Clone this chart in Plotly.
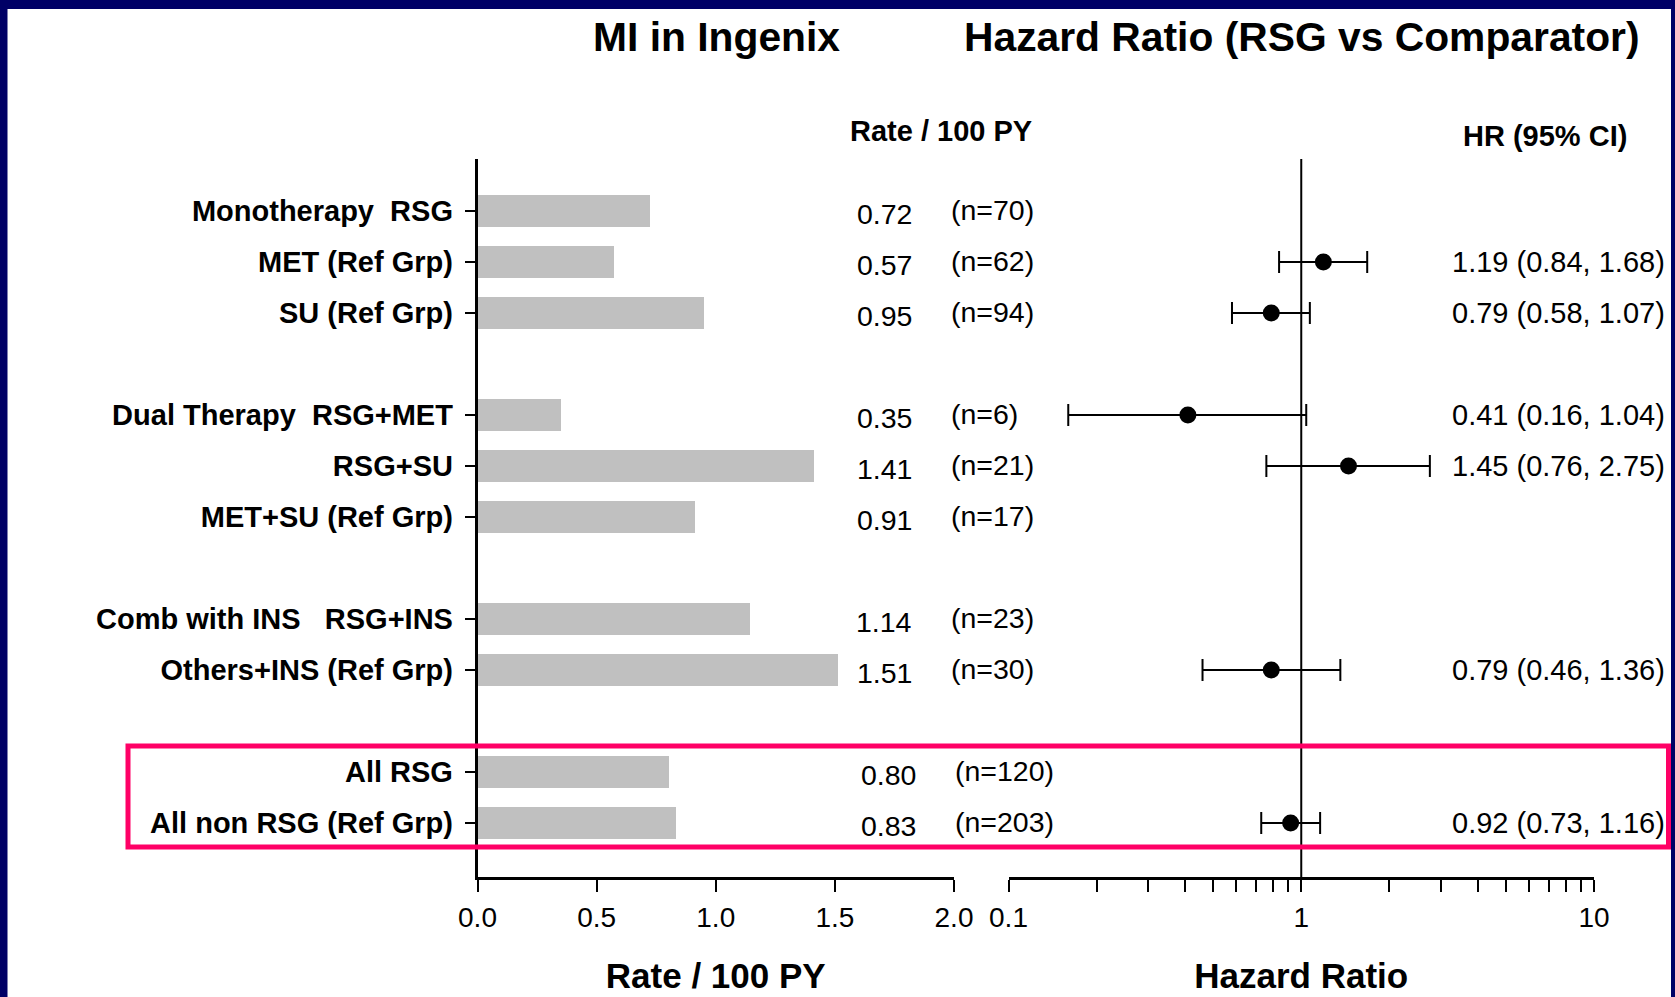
import plotly.graph_objects as go

# ---------------- data ----------------
labels = ["Monotherapy\u00a0\u00a0RSG", "MET (Ref Grp)", "SU (Ref Grp)",
          "Dual Therapy\u00a0\u00a0RSG+MET", "RSG+SU", "MET+SU (Ref Grp)",
          "Comb with INS\u00a0\u00a0\u00a0RSG+INS", "Others+INS (Ref Grp)",
          "All RSG", "All non RSG (Ref Grp)"]
rows = [0, 1, 2, 4, 5, 6, 8, 9, 11, 12]          # slot of each row (gaps between groups)
rates = [0.72, 0.57, 0.95, 0.35, 1.41, 0.91, 1.14, 1.51, 0.80, 0.83]
n_events = [70, 62, 94, 6, 21, 17, 23, 30, 120, 203]

hr_rows = [1, 2, 4, 5, 9, 12]
hr = [1.19, 0.79, 0.41, 1.45, 0.79, 0.92]
hr_lo = [0.84, 0.58, 0.16, 0.76, 0.46, 0.73]
hr_hi = [1.68, 1.07, 1.04, 2.75, 1.36, 1.16]

rate_ticks = [0, 0.5, 1.0, 1.5, 2.0]
hr_ticks = [0.1, 0.2, 0.3, 0.4, 0.5, 0.6, 0.7, 0.8, 0.9,
            1, 2, 3, 4, 5, 6, 7, 8, 9, 10]
hr_ticktext = ["0.1"] + [""] * 8 + ["1"] + [""] * 8 + ["10"]

# ---------------- layout geometry (pixels) ----------------
W, H = 1675, 997
FONT = "Liberation Sans, Arial, Helvetica, sans-serif"
NAVY = "#000066"
PINK = "#FF0066"

def px(x):
    return x / W

def py(y):
    return 1 - y / H

plot_top, plot_bot = 159, 877
row0_px, slot_px = 211, 51
y_top = (plot_top - row0_px) / slot_px
y_bot = (plot_bot - row0_px) / slot_px

fig = go.Figure()

fig.add_trace(go.Bar(
    x=rates, y=rows, orientation="h", width=0.63,
    marker=dict(color="#C0C0C0", line=dict(width=0)),
    xaxis="x", yaxis="y", showlegend=False, hoverinfo="x+y"))

fig.add_trace(go.Scatter(
    x=hr, y=hr_rows, mode="markers", xaxis="x2", yaxis="y",
    marker=dict(color="black", size=17, symbol="circle"),
    error_x=dict(type="data", symmetric=False,
                 array=[h - m for h, m in zip(hr_hi, hr)],
                 arrayminus=[m - l for m, l in zip(hr, hr_lo)],
                 color="black", thickness=2, width=11),
    showlegend=False))

axis_common = dict(showgrid=False, zeroline=False, showline=True, linecolor="black",
                   linewidth=2.5, ticks="outside", tickcolor="black", tickwidth=2)

fig.update_layout(
    width=W, height=H, margin=dict(l=0, r=0, t=0, b=0, autoexpand=False),
    paper_bgcolor="white", plot_bgcolor="rgba(0,0,0,0)",
    font=dict(family=FONT, color="black"),
    bargap=0,
    xaxis=dict(domain=[px(477.5), px(954)], range=[0, 2], anchor="y",
               tickvals=rate_ticks, ticktext=[f"{v:.1f}" for v in rate_ticks],
               ticklen=12, ticklabelstandoff=2,
               tickfont=dict(size=28, family=FONT),
               title=dict(text="Rate / 100 PY", standoff=32,
                          font=dict(size=35, family=FONT, weight="bold")),
               **axis_common),
    xaxis2=dict(domain=[px(1008.5), px(1594)], type="log", range=[-1, 1], anchor="y",
                tickvals=hr_ticks, ticktext=hr_ticktext,
                ticklen=12, ticklabelstandoff=2,
                tickfont=dict(size=28, family=FONT),
                title=dict(text="Hazard Ratio", standoff=32,
                           font=dict(size=35, family=FONT, weight="bold")),
                **axis_common),
    yaxis=dict(domain=[py(plot_bot), py(plot_top)], range=[y_bot, y_top], anchor="x",
               tickvals=rows, ticktext=labels, ticklen=10, ticklabelstandoff=6,
               tickfont=dict(size=29, family=FONT, weight="bold"),
               **axis_common),
)

# reference line at HR = 1
fig.add_shape(type="line", xref="x2", yref="y domain", x0=1, x1=1, y0=0, y1=1,
              line=dict(color="black", width=2), layer="below")

# highlight box around the "All" rows
fig.add_shape(type="rect", xref="paper", yref="paper",
              x0=px(128), x1=px(1668.5), y0=py(847), y1=py(746),
              line=dict(color=PINK, width=5), fillcolor="rgba(0,0,0,0)")

# navy frame (top, left, right)
fig.add_shape(type="rect", xref="paper", yref="paper", x0=0, x1=1, y0=py(9), y1=1,
              line=dict(width=0), fillcolor=NAVY, layer="above")
fig.add_shape(type="rect", xref="paper", yref="paper", x0=0, x1=px(7.5), y0=0, y1=1,
              line=dict(width=0), fillcolor=NAVY, layer="above")
fig.add_shape(type="rect", xref="paper", yref="paper", x0=px(1671), x1=1, y0=0, y1=1,
              line=dict(width=0), fillcolor=NAVY, layer="above")

ann = []
# titles
ann.append(dict(text="MI in Ingenix", x=px(716), y=py(37), xref="paper", yref="paper",
                showarrow=False, xanchor="center", yanchor="middle",
                font=dict(size=40.8, family=FONT, weight="bold")))
ann.append(dict(text="Hazard Ratio (RSG vs Comparator)", x=px(1302), y=py(37),
                xref="paper", yref="paper", showarrow=False, xanchor="center",
                yanchor="middle", font=dict(size=40.8, family=FONT, weight="bold")))
# column headers
ann.append(dict(text="Rate / 100 PY", x=px(941), y=py(131), xref="paper", yref="paper",
                showarrow=False, xanchor="center", yanchor="middle",
                font=dict(size=29, family=FONT, weight="bold")))
ann.append(dict(text="HR (95% CI)", x=px(1545), y=py(136), xref="paper", yref="paper",
                showarrow=False, xanchor="center", yanchor="middle",
                font=dict(size=29, family=FONT, weight="bold")))

# rate and event-count columns
for r, rate, n in zip(rows, rates, n_events):
    shift = 4 if r >= 11 else 0
    ann.append(dict(text=f"{rate:.2f}", x=px(884 + shift), y=r, xref="paper", yref="y",
                    showarrow=False, xanchor="center", yanchor="middle", yshift=-3,
                    font=dict(size=28.5, family=FONT)))
    ann.append(dict(text=f"(n={n})", x=px(949 + shift), y=r, xref="paper", yref="y",
                    showarrow=False, xanchor="left", yanchor="middle", yshift=1,
                    font=dict(size=28.5, family=FONT)))

# hazard ratio text column
for r, m, lo, hi in zip(hr_rows, hr, hr_lo, hr_hi):
    ann.append(dict(text=f"{m:.2f} ({lo:.2f}, {hi:.2f})", x=px(1667), y=r,
                    xref="paper", yref="y", showarrow=False, xanchor="right",
                    yanchor="middle", font=dict(size=29, family=FONT)))

fig.update_layout(annotations=ann)

fig.write_html("out.html", config={"displayModeBar": False},
               post_script="document.body.style.margin='0';document.body.style.overflow='hidden';")
